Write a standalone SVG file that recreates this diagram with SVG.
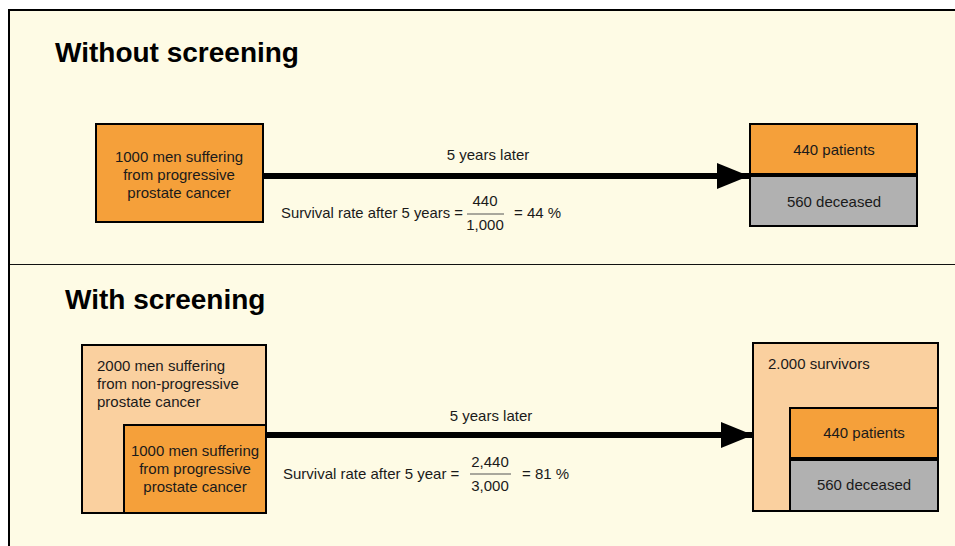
<svg xmlns="http://www.w3.org/2000/svg" width="955" height="546" viewBox="0 0 955 546">
  <defs>
    <style>
      .title { font-family: "Liberation Sans", Arial, sans-serif; font-weight: bold; font-size: 28px; fill: #000; }
      .t { font-family: "Liberation Sans", Arial, sans-serif; font-size: 15px; fill: #1a1a1a; }
      .mid { text-anchor: middle; }
      .box { stroke: #000; stroke-width: 2; }
      .prog { fill: #f5a03a; }
      .light { fill: #fad09f; }
      .dead { fill: #b1b1b1; }
      .conn { stroke: #000; stroke-width: 6; fill: none; }
      .frac { stroke: #555; stroke-width: 1; }
    </style>
    <marker id="head" markerUnits="userSpaceOnUse" markerWidth="34" markerHeight="28" refX="32" refY="13" orient="auto">
      <path d="M0,0 L32,13 L0,26 Z" fill="#000"/>
    </marker>
  </defs>

  <!-- page background and frame -->
  <rect x="0" y="0" width="955" height="546" fill="#ffffff"/>
  <rect x="9" y="10" width="960" height="550" fill="#fefbe5" stroke="#000" stroke-width="2"/>
  <line x1="10" y1="264.5" x2="955" y2="264.5" stroke="#111" stroke-width="1"/>

  <!-- section titles -->
  <text class="title" x="55" y="62">Without screening</text>
  <text class="title" x="65" y="309">With screening</text>

  <!-- connectors -->
  <g id="connectors">
    <line class="conn" x1="263" y1="176" x2="749" y2="176" marker-end="url(#head)"/>
    <line class="conn" x1="266" y1="435" x2="753" y2="435" marker-end="url(#head)"/>
  </g>

  <!-- without screening -->
  <g id="start-progressive">
    <rect class="box prog" x="96" y="124" width="167" height="98"/>
    <text class="t mid" x="179" y="162">1000 men suffering</text>
    <text class="t mid" x="179" y="180">from progressive</text>
    <text class="t mid" x="179" y="198">prostate cancer</text>
  </g>

  <g id="label-without">
    <text class="t mid" x="488" y="160">5 years later</text>
    <text class="t" x="281" y="218" textLength="182" lengthAdjust="spacingAndGlyphs">Survival rate after 5 years =</text>
    <text class="t mid" x="485" y="206">440</text>
    <line class="frac" x1="467" y1="214" x2="504" y2="214"/>
    <text class="t mid" x="485" y="230">1,000</text>
    <text class="t" x="514" y="218">= 44 %</text>
  </g>

  <g id="result-patients">
    <rect class="box prog" x="750" y="124" width="167" height="50"/>
    <text class="t mid" x="834" y="155">440 patients</text>
  </g>
  <g id="result-deceased">
    <rect class="box dead" x="750" y="176" width="167" height="50"/>
    <text class="t mid" x="834" y="207">560 deceased</text>
  </g>

  <!-- with screening -->
  <g id="start-all">
    <rect class="box light" x="82" y="345" width="184" height="168"/>
    <text class="t" x="97" y="371">2000 men suffering</text>
    <text class="t" x="97" y="389">from non-progressive</text>
    <text class="t" x="97" y="407">prostate cancer</text>
  </g>
  <g id="start-progressive-2">
    <rect class="box prog" x="124" y="425" width="142" height="88"/>
    <text class="t mid" x="195" y="456">1000 men suffering</text>
    <text class="t mid" x="195" y="474">from progressive</text>
    <text class="t mid" x="195" y="492">prostate cancer</text>
  </g>

  <g id="label-with">
    <text class="t mid" x="491" y="421">5 years later</text>
    <text class="t" x="283" y="479">Survival rate after 5 year  =</text>
    <text class="t mid" x="490" y="467">2,440</text>
    <line class="frac" x1="470" y1="474" x2="511" y2="474"/>
    <text class="t mid" x="490" y="491">3,000</text>
    <text class="t" x="522" y="479">= 81 %</text>
  </g>

  <g id="result-survivors">
    <rect class="box light" x="753" y="343" width="185" height="168"/>
    <text class="t" x="768" y="369">2.000 survivors</text>
  </g>
  <g id="result-patients-2">
    <rect class="box prog" x="790" y="408" width="148" height="50"/>
    <text class="t mid" x="864" y="438">440 patients</text>
  </g>
  <g id="result-deceased-2">
    <rect class="box dead" x="790" y="460" width="148" height="51"/>
    <text class="t mid" x="864" y="490">560 deceased</text>
  </g>
</svg>
